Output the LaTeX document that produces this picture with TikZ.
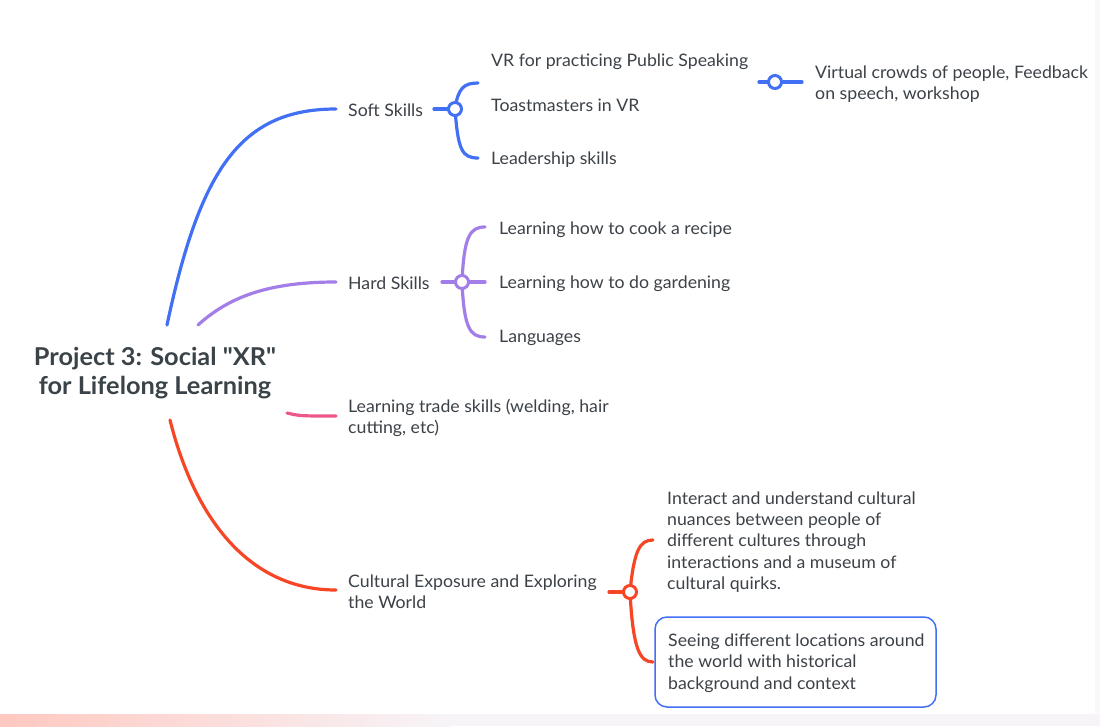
\documentclass[tikz,border=0pt]{standalone}
\usepackage{fontspec}
\setmainfont{Lato}[FakeStretch=1.03]
\newfontfamily\titlefont{Lato}[FakeStretch=1.03,Ligatures=TeXOff]
\begin{document}
\begin{tikzpicture}[x=1pt,y=-1pt,
  txt/.style={anchor=west,inner sep=0pt,text=textgray,font=\fontsize{17.2}{21.3}\selectfont,align=left},
  br/.style={line width=3.2pt,line cap=round},
  knot/.style={circle,draw,line width=3pt,fill=white,minimum size=13pt,inner sep=0pt}]
\definecolor{textgray}{RGB}{60,66,72}
\definecolor{titlegray}{RGB}{58,67,72}
\definecolor{cblue}{RGB}{66,112,245}
\definecolor{cpurple}{RGB}{163,126,232}
\definecolor{cpink}{RGB}{236,88,138}
\definecolor{cred}{RGB}{247,70,38}
\definecolor{stripl}{RGB}{255,200,192}
\definecolor{stripr}{RGB}{247,244,248}
\useasboundingbox (0,0) rectangle (1100,726);
\fill[white] (0,0) rectangle (1100,726);
% bottom strip and right edge
\shade[left color=stripl,right color=stripr] (0,714) rectangle (450,726);
\fill[stripr] (450,714) rectangle (1100,726);
\fill[stripr!60!white] (1095,0) rectangle (1100,714);

% title
\node[inner sep=0pt,text=titlegray,align=center,font=\titlefont\bfseries\fontsize{24.6}{29}\selectfont] (title) at (155,373) {Project 3: Social "XR"\\for Lifelong Learning};

% main branch start points
\coordinate (sBlue) at (167,325);
\coordinate (sPurple) at (198,325);
\coordinate (sPink) at (287,413);
\coordinate (sRed) at (170,420);

% level 1 nodes
\node[txt] (soft) at (348,110.5) {Soft Skills};
\node[txt] (hard) at (348,283.5) {Hard Skills};
\node[txt] (trade) at (348,418) {Learning trade skills (welding, hair\\cutting, etc)};
\node[txt] (cult) at (348,592) {Cultural Exposure and Exploring\\the World};

\draw[br,cblue] (sBlue) .. controls (200,170) and (240,109) .. (336,109);
\draw[br,cpurple] (sPurple) .. controls (230,296) and (270,282) .. (336,282);
\draw[br,cpink] (sPink) .. controls (300,416) .. (336,416);
\draw[br,cred] (sRed) .. controls (195,520) and (250,590) .. (336,590);

% soft skills children
\node[txt] (vr) at (491,62) {VR for practicing Public Speaking};
\node[txt] (toast) at (491,105) {Toastmasters in VR};
\node[txt] (lead) at (491,160) {Leadership skills};
\node[txt] (crowd) at (815,84) {Virtual crowds of people, Feedback\\on speech, workshop};
\coordinate (softL) at (434,109);
\coordinate (vrEnd) at (478,83);
\coordinate (leadEnd) at (478,158);
\draw[br,cblue] (softL) -- (450,109);
\draw[br,cblue] (455,109) .. controls (458,88) and (464,83) .. (vrEnd);
\draw[br,cblue] (455,109) .. controls (458,150) and (462,158) .. (leadEnd);
\node[knot,draw=cblue] (ks) at (455,109) {};
\coordinate (crL) at (759,82);
\coordinate (crR) at (802,82);
\draw[br,cblue] (crL) -- (crR);
\node[knot,draw=cblue] (kc) at (775,82) {};

% hard skills children
\node[txt] (cook) at (499,230) {Learning how to cook a recipe};
\node[txt] (garden) at (499,284) {Learning how to do gardening};
\node[txt] (lang) at (499,338) {Languages};
\coordinate (hardL) at (442,282);
\coordinate (cookEnd) at (485,227);
\coordinate (gardenEnd) at (485,282);
\coordinate (langEnd) at (485,337);
\draw[br,cpurple] (hardL) -- (gardenEnd);
\draw[br,cpurple] (462,282) .. controls (464,236) and (470,227) .. (cookEnd);
\draw[br,cpurple] (462,282) .. controls (464,328) and (470,337) .. (langEnd);
\node[knot,draw=cpurple] (kh) at (462,282) {};

% cultural children
\node[txt] (inter) at (667,542) {Interact and understand cultural\\nuances between people of\\different cultures through\\interactions and a museum of\\cultural quirks.};
\node[draw=cblue,line width=1.5pt,rounded corners=12pt,minimum width=281pt,minimum height=90pt,inner sep=0pt] (boxn) at (795.5,662) {};
\node[txt] (seeing) at (668,663) {Seeing different locations around\\the world with historical\\background and context};
\coordinate (cultL) at (609,592);
\coordinate (interEnd) at (653,540);
\coordinate (seeEnd) at (653,662);
\draw[br,cred] (cultL) -- (625,592);
\draw[br,cred] (630,592) .. controls (634,550) and (640,540) .. (interEnd);
\draw[br,cred] (630,592) .. controls (633,650) and (640,662) .. (seeEnd);
\node[knot,draw=cred] (kcu) at (630,592) {};
\end{tikzpicture}
\end{document}
